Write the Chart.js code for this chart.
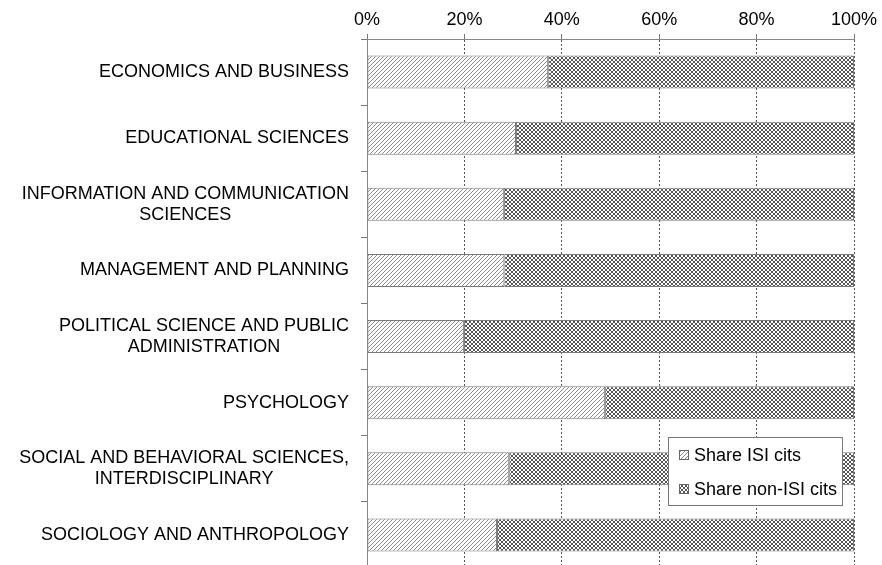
<!DOCTYPE html>
<html>
<head>
<meta charset="utf-8">
<script src="https://cdn.jsdelivr.net/npm/chart.js@4"></script>
<style>
html,body{margin:0;padding:0;background:#fff;overflow:hidden;}
canvas{display:block;}
</style>
</head>
<body>
<canvas id="c" width="882" height="570"></canvas>
<script>
const categories = [
  ["ECONOMICS AND BUSINESS"],
  ["EDUCATIONAL SCIENCES"],
  ["INFORMATION AND COMMUNICATION", "SCIENCES"],
  ["MANAGEMENT AND PLANNING"],
  ["POLITICAL SCIENCE AND PUBLIC", "ADMINISTRATION"],
  ["PSYCHOLOGY"],
  ["SOCIAL AND BEHAVIORAL SCIENCES,", "INTERDISCIPLINARY"],
  ["SOCIOLOGY AND ANTHROPOLOGY"]
];
const shareISI    = [37.2, 30.6, 28.1, 28.2, 19.9, 48.9, 29.2, 26.7];
const shareNonISI = [62.8, 69.4, 71.9, 71.8, 80.1, 51.1, 70.8, 73.3];
const seriesNames = ["Share ISI cits", "Share non-ISI cits"];
const xTicks = [0, 20, 40, 60, 80, 100];

const FONT = "Liberation Sans, Arial, sans-serif";
const ctx = document.getElementById('c').getContext('2d');

function makePattern(pixels, size, color) {
  const c = document.createElement('canvas');
  c.width = c.height = size;
  const g = c.getContext('2d');
  g.fillStyle = '#fff';
  g.fillRect(0, 0, size, size);
  g.fillStyle = color;
  pixels.forEach(p => g.fillRect(p[0], p[1], 1, 1));
  return ctx.createPattern(c, 'repeat');
}
const diagPattern = makePattern([[0,3],[1,2],[2,1],[3,0]], 4, '#8a8a8a');
const crossPattern = makePattern([[0,0],[1,1],[2,2],[3,3],[0,3],[1,2],[2,1],[3,0]], 4, '#555');

const labelPlugin = {
  id: 'catLabels',
  afterDraw(chart) {
    const y = chart.scales.y;
    const g = chart.ctx;
    g.save();
    g.font = "18px " + FONT;
    g.fillStyle = '#000';
    g.textAlign = 'center';
    g.textBaseline = 'middle';
    const lh = 21;
    categories.forEach((lines, i) => {
      const cy = y.getPixelForValue(i);
      const w = Math.max(...lines.map(l => g.measureText(l).width));
      const cx = 349 - w / 2;
      const y0 = cy - (lines.length - 1) * lh / 2;
      lines.forEach((l, k) => g.fillText(l, cx, y0 + k * lh));
    });
    g.restore();
  }
};

const legendPlugin = {
  id: 'boxLegend',
  afterDraw(chart) {
    const g = chart.ctx;
    g.save();
    const bx = 668.5, by = 437.5, bw = 174, bh = 68;
    g.fillStyle = '#fff';
    g.fillRect(bx, by, bw, bh);
    g.strokeStyle = '#777';
    g.lineWidth = 1;
    g.strokeRect(bx, by, bw, bh);
    const pats = [diagPattern, crossPattern];
    g.font = "18px " + FONT;
    g.textBaseline = 'middle';
    g.textAlign = 'left';
    seriesNames.forEach((name, i) => {
      const cy = 455 + i * 34;
      g.fillStyle = pats[i];
      g.fillRect(679, cy - 5, 10, 10);
      g.strokeStyle = '#666';
      g.strokeRect(679.5, cy - 4.5, 9, 9);
      g.fillStyle = '#000';
      g.fillText(name, 694, cy + 1);
    });
    g.restore();
  }
};

new Chart(ctx, {
  type: 'bar',
  data: {
    labels: categories.map(l => l.join(' ')),
    datasets: [
      { label: seriesNames[0], data: shareISI, backgroundColor: diagPattern,
        borderColor: '#7a7a7a', borderWidth: 1, borderSkipped: false },
      { label: seriesNames[1], data: shareNonISI, backgroundColor: crossPattern,
        borderColor: '#7a7a7a', borderWidth: 1, borderSkipped: false }
    ]
  },
  options: {
    indexAxis: 'y',
    responsive: false,
    animation: false,
    events: [],
    layout: { padding: { left: 0, right: 28, top: 0, bottom: 2 } },
    datasets: { bar: { categoryPercentage: 1, barPercentage: 0.5 } },
    plugins: { legend: { display: false }, tooltip: { enabled: false } },
    scales: {
      x: {
        position: 'top',
        stacked: true,
        min: 0, max: 100,
        afterBuildTicks(s) { s.ticks = xTicks.map(v => ({ value: v })); },
        afterFit(s) { s.height = 39; },
        ticks: {
          callback: v => v + '%',
          font: { family: FONT, size: 18 },
          color: '#000',
          padding: 3,
          maxRotation: 0
        },
        grid: {
          color: '#555',
          tickBorderDash: [],
          tickColor: '#777',
          tickLength: 5,
          lineWidth: 1
        },
        border: { display: true, color: '#888', width: 1, dash: [2, 2] }
      },
      y: {
        stacked: true,
        afterFit(s) { s.width = 367; },
        ticks: { display: false },
        grid: {
          drawOnChartArea: false,
          drawTicks: true,
          tickLength: 6,
          tickColor: '#777',
          offset: true
        },
        border: { display: true, color: '#888', width: 1 }
      }
    }
  },
  plugins: [labelPlugin, legendPlugin]
});
</script>
</body>
</html>
